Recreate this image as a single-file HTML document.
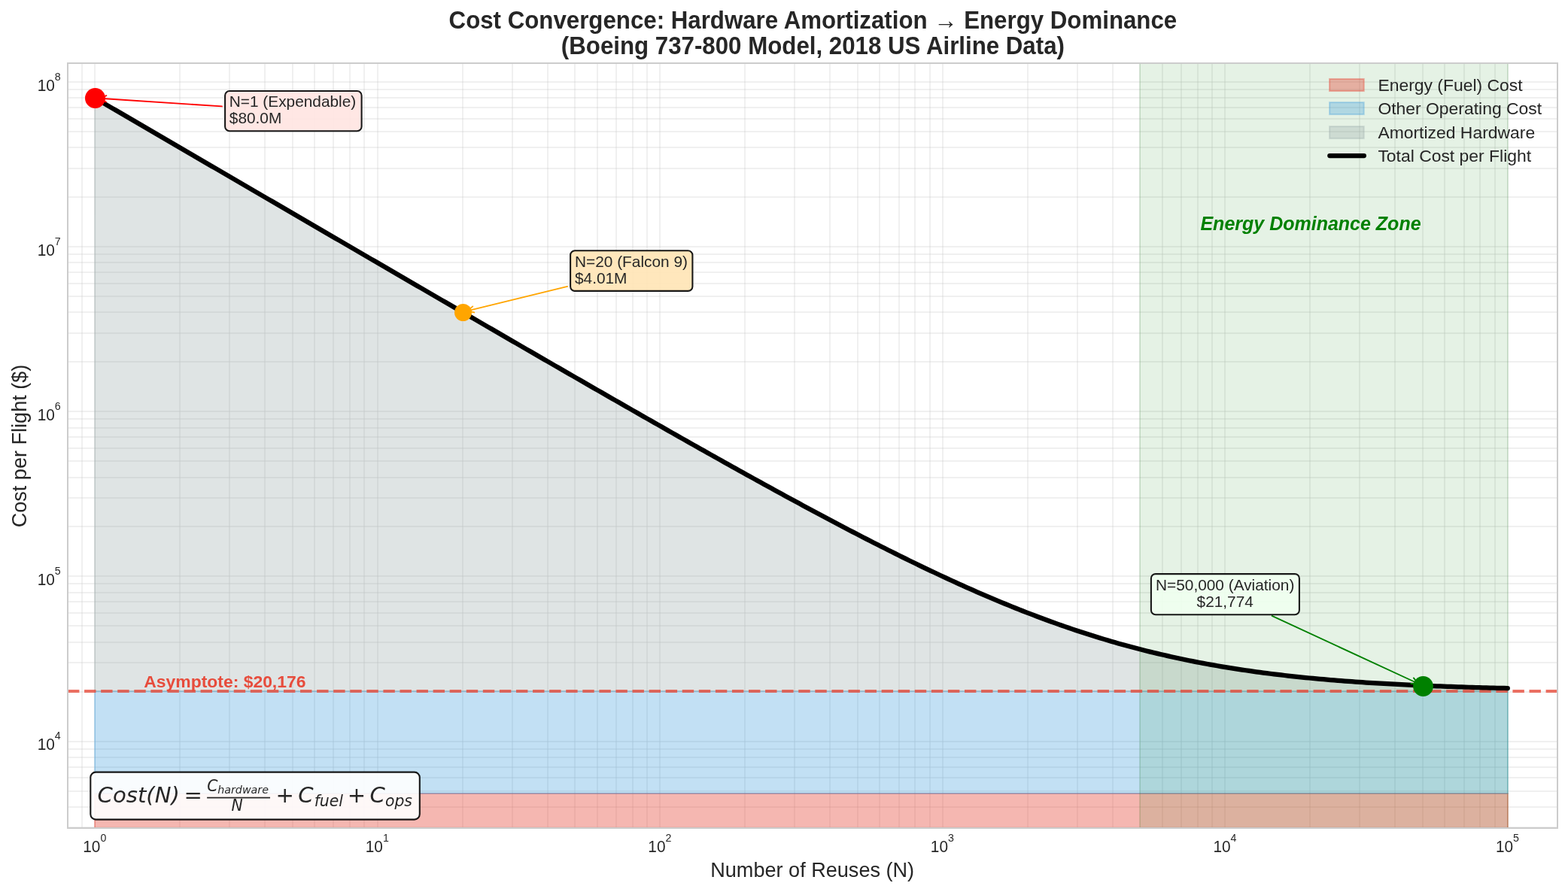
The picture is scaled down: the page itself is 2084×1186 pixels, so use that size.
<!DOCTYPE html>
<html lang="en">
<head>
<meta charset="utf-8">
<title>Cost Convergence: Hardware Amortization to Energy Dominance</title>
<style>
html,body{margin:0;padding:0;background:#ffffff;}
body{width:2084px;height:1186px;overflow:hidden;font-family:"Liberation Sans",sans-serif;}
svg{display:block;will-change:transform;}
svg text{font-family:"Liberation Sans",sans-serif;fill:#262626;}
.tk{font-size:20.83px;}
.sup{font-size:14.2px;}
.ann{font-size:20.83px;}
.leg{font-size:22.92px;}
.fm{font-family:"DejaVu Sans","Liberation Sans",sans-serif;font-style:italic;fill:#262626;}
.fmu{font-family:"DejaVu Sans","Liberation Sans",sans-serif;font-style:normal;fill:#262626;}
</style>
</head>
<body>
<svg width="2084" height="1186" viewBox="0 0 2084 1186">
<rect x="0" y="0" width="2084" height="1186" fill="#ffffff"/>

<defs><clipPath id="ax"><rect x="90.00" y="84.00" width="1980.00" height="1017.00"/></clipPath></defs>
<g clip-path="url(#ax)">
<g stroke="#cccccc" stroke-opacity="0.30" stroke-width="2" fill="none">
<path d="M90 84.0V1101.0"/>
<path d="M109 84.0V1101.0"/>
<path d="M126 84.0V1101.0"/>
<path d="M239 84.0V1101.0"/>
<path d="M305 84.0V1101.0"/>
<path d="M352 84.0V1101.0"/>
<path d="M389 84.0V1101.0"/>
<path d="M418 84.0V1101.0"/>
<path d="M443 84.0V1101.0"/>
<path d="M465 84.0V1101.0"/>
<path d="M484 84.0V1101.0"/>
<path d="M502 84.0V1101.0"/>
<path d="M615 84.0V1101.0"/>
<path d="M681 84.0V1101.0"/>
<path d="M728 84.0V1101.0"/>
<path d="M764 84.0V1101.0"/>
<path d="M794 84.0V1101.0"/>
<path d="M819 84.0V1101.0"/>
<path d="M841 84.0V1101.0"/>
<path d="M860 84.0V1101.0"/>
<path d="M877 84.0V1101.0"/>
<path d="M990 84.0V1101.0"/>
<path d="M1056 84.0V1101.0"/>
<path d="M1103 84.0V1101.0"/>
<path d="M1140 84.0V1101.0"/>
<path d="M1169 84.0V1101.0"/>
<path d="M1195 84.0V1101.0"/>
<path d="M1216 84.0V1101.0"/>
<path d="M1236 84.0V1101.0"/>
<path d="M1253 84.0V1101.0"/>
<path d="M1366 84.0V1101.0"/>
<path d="M1432 84.0V1101.0"/>
<path d="M1479 84.0V1101.0"/>
<path d="M1515 84.0V1101.0"/>
<path d="M1545 84.0V1101.0"/>
<path d="M1570 84.0V1101.0"/>
<path d="M1592 84.0V1101.0"/>
<path d="M1611 84.0V1101.0"/>
<path d="M1628 84.0V1101.0"/>
<path d="M1741 84.0V1101.0"/>
<path d="M1807 84.0V1101.0"/>
<path d="M1854 84.0V1101.0"/>
<path d="M1891 84.0V1101.0"/>
<path d="M1920 84.0V1101.0"/>
<path d="M1946 84.0V1101.0"/>
<path d="M1967 84.0V1101.0"/>
<path d="M1987 84.0V1101.0"/>
<path d="M2004 84.0V1101.0"/>
<path d="M90.0 1100H2070.0"/>
<path d="M90.0 1073H2070.0"/>
<path d="M90.0 1052H2070.0"/>
<path d="M90.0 1034H2070.0"/>
<path d="M90.0 1020H2070.0"/>
<path d="M90.0 1007H2070.0"/>
<path d="M90.0 996H2070.0"/>
<path d="M90.0 986H2070.0"/>
<path d="M90.0 920H2070.0"/>
<path d="M90.0 881H2070.0"/>
<path d="M90.0 854H2070.0"/>
<path d="M90.0 832H2070.0"/>
<path d="M90.0 815H2070.0"/>
<path d="M90.0 800H2070.0"/>
<path d="M90.0 788H2070.0"/>
<path d="M90.0 776H2070.0"/>
<path d="M90.0 766H2070.0"/>
<path d="M90.0 700H2070.0"/>
<path d="M90.0 662H2070.0"/>
<path d="M90.0 635H2070.0"/>
<path d="M90.0 613H2070.0"/>
<path d="M90.0 596H2070.0"/>
<path d="M90.0 581H2070.0"/>
<path d="M90.0 569H2070.0"/>
<path d="M90.0 557H2070.0"/>
<path d="M90.0 547H2070.0"/>
<path d="M90.0 481H2070.0"/>
<path d="M90.0 443H2070.0"/>
<path d="M90.0 415H2070.0"/>
<path d="M90.0 394H2070.0"/>
<path d="M90.0 377H2070.0"/>
<path d="M90.0 362H2070.0"/>
<path d="M90.0 349H2070.0"/>
<path d="M90.0 338H2070.0"/>
<path d="M90.0 328H2070.0"/>
<path d="M90.0 262H2070.0"/>
<path d="M90.0 224H2070.0"/>
<path d="M90.0 196H2070.0"/>
<path d="M90.0 175H2070.0"/>
<path d="M90.0 158H2070.0"/>
<path d="M90.0 143H2070.0"/>
<path d="M90.0 130H2070.0"/>
<path d="M90.0 119H2070.0"/>
<path d="M90.0 109H2070.0"/>
</g>
<rect x="126.00" y="1055.00" width="1878.00" height="66.00" fill="#e74c3c" fill-opacity="0.4" stroke="#e74c3c" stroke-opacity="0.4" stroke-width="2.00"/>
<rect x="126.00" y="919.00" width="1878.00" height="136.00" fill="#3498db" fill-opacity="0.3" stroke="#3498db" stroke-opacity="0.3" stroke-width="2.00"/>
<path d="M126.00 919.00L126.08 130.35L130.78 133.10L135.49 135.84L140.19 138.59L144.90 141.33L149.61 144.08L154.31 146.82L159.02 149.57L163.72 152.31L168.43 155.06L173.14 157.80L177.84 160.55L182.55 163.29L187.25 166.04L191.96 168.78L196.67 171.53L201.37 174.27L206.08 177.02L210.78 179.76L215.49 182.51L220.20 185.25L224.90 188.00L229.61 190.74L234.32 193.49L239.02 196.23L243.73 198.98L248.43 201.72L253.14 204.46L257.85 207.21L262.55 209.95L267.26 212.70L271.96 215.44L276.67 218.19L281.38 220.93L286.08 223.67L290.79 226.42L295.49 229.16L300.20 231.91L304.91 234.65L309.61 237.39L314.32 240.14L319.03 242.88L323.73 245.63L328.44 248.37L333.14 251.11L337.85 253.86L342.56 256.60L347.26 259.34L351.97 262.09L356.67 264.83L361.38 267.57L366.09 270.32L370.79 273.06L375.50 275.80L380.20 278.54L384.91 281.29L389.62 284.03L394.32 286.77L399.03 289.51L403.74 292.26L408.44 295.00L413.15 297.74L417.85 300.48L422.56 303.22L427.27 305.97L431.97 308.71L436.68 311.45L441.38 314.19L446.09 316.93L450.80 319.67L455.50 322.41L460.21 325.15L464.91 327.89L469.62 330.63L474.33 333.38L479.03 336.12L483.74 338.86L488.44 341.59L493.15 344.33L497.86 347.07L502.56 349.81L507.27 352.55L511.98 355.29L516.68 358.03L521.39 360.77L526.09 363.51L530.80 366.24L535.51 368.98L540.21 371.72L544.92 374.46L549.62 377.19L554.33 379.93L559.04 382.66L563.74 385.40L568.45 388.14L573.15 390.87L577.86 393.61L582.57 396.34L587.27 399.08L591.98 401.81L596.69 404.54L601.39 407.28L606.10 410.01L610.80 412.74L615.51 415.48L620.22 418.21L624.92 420.94L629.63 423.67L634.33 426.40L639.04 429.13L643.75 431.86L648.45 434.59L653.16 437.32L657.86 440.05L662.57 442.78L667.28 445.50L671.98 448.23L676.69 450.96L681.40 453.68L686.10 456.41L690.81 459.13L695.51 461.85L700.22 464.58L704.93 467.30L709.63 470.02L714.34 472.74L719.04 475.46L723.75 478.18L728.46 480.90L733.16 483.62L737.87 486.34L742.57 489.05L747.28 491.77L751.99 494.48L756.69 497.20L761.40 499.91L766.10 502.62L770.81 505.33L775.52 508.04L780.22 510.75L784.93 513.46L789.64 516.17L794.34 518.87L799.05 521.58L803.75 524.28L808.46 526.98L813.17 529.68L817.87 532.38L822.58 535.08L827.28 537.77L831.99 540.47L836.70 543.16L841.40 545.86L846.11 548.55L850.81 551.24L855.52 553.92L860.23 556.61L864.93 559.29L869.64 561.97L874.35 564.66L879.05 567.33L883.76 570.01L888.46 572.69L893.17 575.36L897.88 578.03L902.58 580.70L907.29 583.36L911.99 586.03L916.70 588.69L921.41 591.35L926.11 594.00L930.82 596.66L935.52 599.31L940.23 601.96L944.94 604.61L949.64 607.25L954.35 609.89L959.06 612.53L963.76 615.16L968.47 617.79L973.17 620.42L977.88 623.05L982.59 625.67L987.29 628.29L992.00 630.90L996.70 633.51L1001.41 636.12L1006.12 638.72L1010.82 641.32L1015.53 643.92L1020.23 646.51L1024.94 649.09L1029.65 651.68L1034.35 654.25L1039.06 656.83L1043.77 659.40L1048.47 661.96L1053.18 664.52L1057.88 667.07L1062.59 669.62L1067.30 672.16L1072.00 674.70L1076.71 677.23L1081.41 679.76L1086.12 682.28L1090.83 684.79L1095.53 687.30L1100.24 689.80L1104.94 692.30L1109.65 694.79L1114.36 697.27L1119.06 699.74L1123.77 702.21L1128.47 704.67L1133.18 707.12L1137.89 709.57L1142.59 712.01L1147.30 714.43L1152.01 716.86L1156.71 719.27L1161.42 721.67L1166.12 724.07L1170.83 726.46L1175.54 728.83L1180.24 731.20L1184.95 733.56L1189.65 735.91L1194.36 738.25L1199.07 740.58L1203.77 742.90L1208.48 745.20L1213.18 747.50L1217.89 749.79L1222.60 752.06L1227.30 754.33L1232.01 756.58L1236.72 758.82L1241.42 761.05L1246.13 763.27L1250.83 765.47L1255.54 767.66L1260.25 769.84L1264.95 772.00L1269.66 774.16L1274.36 776.29L1279.07 778.42L1283.78 780.53L1288.48 782.63L1293.19 784.71L1297.89 786.78L1302.60 788.83L1307.31 790.87L1312.01 792.89L1316.72 794.90L1321.43 796.89L1326.13 798.86L1330.84 800.82L1335.54 802.76L1340.25 804.69L1344.96 806.60L1349.66 808.49L1354.37 810.37L1359.07 812.23L1363.78 814.07L1368.49 815.89L1373.19 817.70L1377.90 819.48L1382.60 821.25L1387.31 823.01L1392.02 824.74L1396.72 826.45L1401.43 828.15L1406.13 829.83L1410.84 831.49L1415.55 833.12L1420.25 834.74L1424.96 836.35L1429.67 837.93L1434.37 839.49L1439.08 841.03L1443.78 842.56L1448.49 844.06L1453.20 845.54L1457.90 847.01L1462.61 848.45L1467.31 849.88L1472.02 851.28L1476.73 852.67L1481.43 854.03L1486.14 855.38L1490.84 856.70L1495.55 858.01L1500.26 859.30L1504.96 860.56L1509.67 861.81L1514.38 863.04L1519.08 864.24L1523.79 865.43L1528.49 866.60L1533.20 867.75L1537.91 868.88L1542.61 869.99L1547.32 871.08L1552.02 872.16L1556.73 873.21L1561.44 874.25L1566.14 875.26L1570.85 876.26L1575.55 877.24L1580.26 878.21L1584.97 879.15L1589.67 880.08L1594.38 880.99L1599.09 881.88L1603.79 882.75L1608.50 883.61L1613.20 884.45L1617.91 885.27L1622.62 886.08L1627.32 886.87L1632.03 887.64L1636.73 888.40L1641.44 889.15L1646.15 889.87L1650.85 890.58L1655.56 891.28L1660.26 891.96L1664.97 892.63L1669.68 893.28L1674.38 893.92L1679.09 894.55L1683.80 895.16L1688.50 895.75L1693.21 896.34L1697.91 896.91L1702.62 897.47L1707.33 898.01L1712.03 898.54L1716.74 899.06L1721.44 899.57L1726.15 900.07L1730.86 900.55L1735.56 901.03L1740.27 901.49L1744.97 901.94L1749.68 902.38L1754.39 902.81L1759.09 903.23L1763.80 903.64L1768.50 904.04L1773.21 904.43L1777.92 904.81L1782.62 905.18L1787.33 905.54L1792.04 905.89L1796.74 906.23L1801.45 906.57L1806.15 906.90L1810.86 907.21L1815.57 907.52L1820.27 907.83L1824.98 908.12L1829.68 908.41L1834.39 908.69L1839.10 908.96L1843.80 909.23L1848.51 909.49L1853.21 909.74L1857.92 909.99L1862.63 910.23L1867.33 910.46L1872.04 910.69L1876.75 910.91L1881.45 911.12L1886.16 911.33L1890.86 911.54L1895.57 911.73L1900.28 911.93L1904.98 912.12L1909.69 912.30L1914.39 912.48L1919.10 912.65L1923.81 912.82L1928.51 912.99L1933.22 913.15L1937.92 913.30L1942.63 913.45L1947.34 913.60L1952.04 913.75L1956.75 913.89L1961.46 914.02L1966.16 914.15L1970.87 914.28L1975.57 914.41L1980.28 914.53L1984.99 914.65L1989.69 914.76L1994.40 914.88L1999.10 914.99L2003.81 915.09L2004.00 919.00Z" fill="#95a5a6" fill-opacity="0.3" stroke="#95a5a6" stroke-opacity="0.3" stroke-width="2.00" stroke-linejoin="round"/>
<rect x="1515.00" y="64.00" width="489.00" height="1057.00" fill="#008000" fill-opacity="0.1" stroke="#008000" stroke-opacity="0.1" stroke-width="2.00"/>
<line x1="90.00" y1="919.00" x2="2070.00" y2="919.00" stroke="#e74c3c" stroke-opacity="0.8" stroke-width="4.17" stroke-dasharray="15.41 6.664"/>
<path d="M126.08 130.35L130.78 133.10L135.49 135.84L140.19 138.59L144.90 141.33L149.61 144.08L154.31 146.82L159.02 149.57L163.72 152.31L168.43 155.06L173.14 157.80L177.84 160.55L182.55 163.29L187.25 166.04L191.96 168.78L196.67 171.53L201.37 174.27L206.08 177.02L210.78 179.76L215.49 182.51L220.20 185.25L224.90 188.00L229.61 190.74L234.32 193.49L239.02 196.23L243.73 198.98L248.43 201.72L253.14 204.46L257.85 207.21L262.55 209.95L267.26 212.70L271.96 215.44L276.67 218.19L281.38 220.93L286.08 223.67L290.79 226.42L295.49 229.16L300.20 231.91L304.91 234.65L309.61 237.39L314.32 240.14L319.03 242.88L323.73 245.63L328.44 248.37L333.14 251.11L337.85 253.86L342.56 256.60L347.26 259.34L351.97 262.09L356.67 264.83L361.38 267.57L366.09 270.32L370.79 273.06L375.50 275.80L380.20 278.54L384.91 281.29L389.62 284.03L394.32 286.77L399.03 289.51L403.74 292.26L408.44 295.00L413.15 297.74L417.85 300.48L422.56 303.22L427.27 305.97L431.97 308.71L436.68 311.45L441.38 314.19L446.09 316.93L450.80 319.67L455.50 322.41L460.21 325.15L464.91 327.89L469.62 330.63L474.33 333.38L479.03 336.12L483.74 338.86L488.44 341.59L493.15 344.33L497.86 347.07L502.56 349.81L507.27 352.55L511.98 355.29L516.68 358.03L521.39 360.77L526.09 363.51L530.80 366.24L535.51 368.98L540.21 371.72L544.92 374.46L549.62 377.19L554.33 379.93L559.04 382.66L563.74 385.40L568.45 388.14L573.15 390.87L577.86 393.61L582.57 396.34L587.27 399.08L591.98 401.81L596.69 404.54L601.39 407.28L606.10 410.01L610.80 412.74L615.51 415.48L620.22 418.21L624.92 420.94L629.63 423.67L634.33 426.40L639.04 429.13L643.75 431.86L648.45 434.59L653.16 437.32L657.86 440.05L662.57 442.78L667.28 445.50L671.98 448.23L676.69 450.96L681.40 453.68L686.10 456.41L690.81 459.13L695.51 461.85L700.22 464.58L704.93 467.30L709.63 470.02L714.34 472.74L719.04 475.46L723.75 478.18L728.46 480.90L733.16 483.62L737.87 486.34L742.57 489.05L747.28 491.77L751.99 494.48L756.69 497.20L761.40 499.91L766.10 502.62L770.81 505.33L775.52 508.04L780.22 510.75L784.93 513.46L789.64 516.17L794.34 518.87L799.05 521.58L803.75 524.28L808.46 526.98L813.17 529.68L817.87 532.38L822.58 535.08L827.28 537.77L831.99 540.47L836.70 543.16L841.40 545.86L846.11 548.55L850.81 551.24L855.52 553.92L860.23 556.61L864.93 559.29L869.64 561.97L874.35 564.66L879.05 567.33L883.76 570.01L888.46 572.69L893.17 575.36L897.88 578.03L902.58 580.70L907.29 583.36L911.99 586.03L916.70 588.69L921.41 591.35L926.11 594.00L930.82 596.66L935.52 599.31L940.23 601.96L944.94 604.61L949.64 607.25L954.35 609.89L959.06 612.53L963.76 615.16L968.47 617.79L973.17 620.42L977.88 623.05L982.59 625.67L987.29 628.29L992.00 630.90L996.70 633.51L1001.41 636.12L1006.12 638.72L1010.82 641.32L1015.53 643.92L1020.23 646.51L1024.94 649.09L1029.65 651.68L1034.35 654.25L1039.06 656.83L1043.77 659.40L1048.47 661.96L1053.18 664.52L1057.88 667.07L1062.59 669.62L1067.30 672.16L1072.00 674.70L1076.71 677.23L1081.41 679.76L1086.12 682.28L1090.83 684.79L1095.53 687.30L1100.24 689.80L1104.94 692.30L1109.65 694.79L1114.36 697.27L1119.06 699.74L1123.77 702.21L1128.47 704.67L1133.18 707.12L1137.89 709.57L1142.59 712.01L1147.30 714.43L1152.01 716.86L1156.71 719.27L1161.42 721.67L1166.12 724.07L1170.83 726.46L1175.54 728.83L1180.24 731.20L1184.95 733.56L1189.65 735.91L1194.36 738.25L1199.07 740.58L1203.77 742.90L1208.48 745.20L1213.18 747.50L1217.89 749.79L1222.60 752.06L1227.30 754.33L1232.01 756.58L1236.72 758.82L1241.42 761.05L1246.13 763.27L1250.83 765.47L1255.54 767.66L1260.25 769.84L1264.95 772.00L1269.66 774.16L1274.36 776.29L1279.07 778.42L1283.78 780.53L1288.48 782.63L1293.19 784.71L1297.89 786.78L1302.60 788.83L1307.31 790.87L1312.01 792.89L1316.72 794.90L1321.43 796.89L1326.13 798.86L1330.84 800.82L1335.54 802.76L1340.25 804.69L1344.96 806.60L1349.66 808.49L1354.37 810.37L1359.07 812.23L1363.78 814.07L1368.49 815.89L1373.19 817.70L1377.90 819.48L1382.60 821.25L1387.31 823.01L1392.02 824.74L1396.72 826.45L1401.43 828.15L1406.13 829.83L1410.84 831.49L1415.55 833.12L1420.25 834.74L1424.96 836.35L1429.67 837.93L1434.37 839.49L1439.08 841.03L1443.78 842.56L1448.49 844.06L1453.20 845.54L1457.90 847.01L1462.61 848.45L1467.31 849.88L1472.02 851.28L1476.73 852.67L1481.43 854.03L1486.14 855.38L1490.84 856.70L1495.55 858.01L1500.26 859.30L1504.96 860.56L1509.67 861.81L1514.38 863.04L1519.08 864.24L1523.79 865.43L1528.49 866.60L1533.20 867.75L1537.91 868.88L1542.61 869.99L1547.32 871.08L1552.02 872.16L1556.73 873.21L1561.44 874.25L1566.14 875.26L1570.85 876.26L1575.55 877.24L1580.26 878.21L1584.97 879.15L1589.67 880.08L1594.38 880.99L1599.09 881.88L1603.79 882.75L1608.50 883.61L1613.20 884.45L1617.91 885.27L1622.62 886.08L1627.32 886.87L1632.03 887.64L1636.73 888.40L1641.44 889.15L1646.15 889.87L1650.85 890.58L1655.56 891.28L1660.26 891.96L1664.97 892.63L1669.68 893.28L1674.38 893.92L1679.09 894.55L1683.80 895.16L1688.50 895.75L1693.21 896.34L1697.91 896.91L1702.62 897.47L1707.33 898.01L1712.03 898.54L1716.74 899.06L1721.44 899.57L1726.15 900.07L1730.86 900.55L1735.56 901.03L1740.27 901.49L1744.97 901.94L1749.68 902.38L1754.39 902.81L1759.09 903.23L1763.80 903.64L1768.50 904.04L1773.21 904.43L1777.92 904.81L1782.62 905.18L1787.33 905.54L1792.04 905.89L1796.74 906.23L1801.45 906.57L1806.15 906.90L1810.86 907.21L1815.57 907.52L1820.27 907.83L1824.98 908.12L1829.68 908.41L1834.39 908.69L1839.10 908.96L1843.80 909.23L1848.51 909.49L1853.21 909.74L1857.92 909.99L1862.63 910.23L1867.33 910.46L1872.04 910.69L1876.75 910.91L1881.45 911.12L1886.16 911.33L1890.86 911.54L1895.57 911.73L1900.28 911.93L1904.98 912.12L1909.69 912.30L1914.39 912.48L1919.10 912.65L1923.81 912.82L1928.51 912.99L1933.22 913.15L1937.92 913.30L1942.63 913.45L1947.34 913.60L1952.04 913.75L1956.75 913.89L1961.46 914.02L1966.16 914.15L1970.87 914.28L1975.57 914.41L1980.28 914.53L1984.99 914.65L1989.69 914.76L1994.40 914.88L1999.10 914.99L2003.81 915.09" fill="none" stroke="#000000" stroke-width="6.25" stroke-linecap="round" stroke-linejoin="round"/>
</g>
<rect x="90" y="84" width="1980" height="1017" fill="none" stroke="#cccccc" stroke-width="2"/>
<path d="M294.94 141.39L132.76 130.79M141.35 127.17L132.76 130.79L140.80 135.49" fill="none" stroke="#ff0000" stroke-width="1.85" stroke-linecap="round" stroke-linejoin="round"/>
<circle cx="126.50" cy="130.50" r="13.50" fill="#ff0000"/>
<rect x="299.10" y="121.00" width="181.50" height="53.20" rx="6" ry="6" fill="#ffe4e1" fill-opacity="0.9" stroke="#000000" stroke-opacity="0.9" stroke-width="2.08"/>
<text class="ann" x="304.80" y="142.00" text-anchor="start">N=1 (Expendable)</text>
<text class="ann" x="304.80" y="164.00" text-anchor="start">$80.0M</text>
<path d="M754.05 380.92L621.18 413.40M628.29 407.37L621.18 413.40L630.26 415.47" fill="none" stroke="#ffa500" stroke-width="1.85" stroke-linecap="round" stroke-linejoin="round"/>
<circle cx="615.50" cy="415.50" r="11.50" fill="#ffa500"/>
<rect x="758.10" y="333.30" width="162.30" height="53.60" rx="6" ry="6" fill="#ffe4b5" fill-opacity="0.9" stroke="#000000" stroke-opacity="0.9" stroke-width="2.08"/>
<text class="ann" x="764.00" y="355.00" text-anchor="start">N=20 (Falcon 9)</text>
<text class="ann" x="764.00" y="377.00" text-anchor="start">$4.01M</text>
<path d="M1690.65 818.95L1884.68 908.72M1875.37 909.00L1884.68 908.72L1878.87 901.44" fill="none" stroke="#008000" stroke-width="1.85" stroke-linecap="round" stroke-linejoin="round"/>
<circle cx="1891.50" cy="912.50" r="13.40" fill="#008000"/>
<rect x="1529.90" y="763.10" width="197.00" height="54.10" rx="6" ry="6" fill="#f0fff0" fill-opacity="0.9" stroke="#000000" stroke-opacity="0.9" stroke-width="2.08"/>
<text class="ann" x="1628.20" y="785.00" text-anchor="middle">N=50,000 (Aviation)</text>
<text class="ann" x="1628.20" y="807.00" text-anchor="middle">$21,774</text>
<text x="191.3" y="914" style="font-size:22.92px;font-weight:bold;fill:#e74c3c">Asymptote: $20,176</text>
<text x="1742" y="306" text-anchor="middle" style="font-size:25px;font-weight:bold;font-style:italic;fill:#008000">Energy Dominance Zone</text>
<rect x="120.3" y="1026.6" width="437.5" height="63.0" rx="7" ry="7" fill="#ffffff" fill-opacity="0.9" stroke="#000000" stroke-opacity="0.9" stroke-width="2.08"/>
<g transform="translate(129.58 1066.9) scale(0.2913)" fill="#262626" aria-label="Cost(N) = C_hardware / N + C_fuel + C_ops">
<text class="fm" x="0" y="0" style="font-size:100px">Cost(N)</text>
<text class="fmu" x="394.6" y="0" style="font-size:100px">=</text>
<text class="fm" x="500" y="-51.3" style="font-size:70px">C</text>
<text class="fm" x="548" y="-39.8" style="font-size:49px">hardware</text>
<path transform="translate(0.00 0.34)" d="M499.6 -18.9L499.6 -25.1L787.6 -25.1L787.6 -18.9Z"/>
<text class="fm" x="611" y="38.7" style="font-size:70px">N</text>
<text class="fmu" x="813.4" y="0" style="font-size:100px">+</text>
<text class="fm" x="915.3" y="0" style="font-size:100px">C</text>
<text class="fm" x="989" y="16.3" style="font-size:70px">fuel</text>
<text class="fmu" x="1140.2" y="0" style="font-size:100px">+</text>
<text class="fm" x="1242.1" y="0" style="font-size:100px">C</text>
<text class="fm" x="1312.6" y="16.3" style="font-size:70px">ops</text>
</g>
<rect x="1767.10" y="105.00" width="45.60" height="16.00" fill="#e74c3c" fill-opacity="0.40" stroke="#e74c3c" stroke-opacity="0.40" stroke-width="2.08"/>
<text class="leg" x="1831.4" y="121.00">Energy (Fuel) Cost</text>
<rect x="1767.10" y="136.10" width="45.60" height="16.00" fill="#3498db" fill-opacity="0.30" stroke="#3498db" stroke-opacity="0.30" stroke-width="2.08"/>
<text class="leg" x="1831.4" y="152.00">Other Operating Cost</text>
<rect x="1767.10" y="168.10" width="45.60" height="16.00" fill="#95a5a6" fill-opacity="0.30" stroke="#95a5a6" stroke-opacity="0.30" stroke-width="2.08"/>
<text class="leg" x="1831.4" y="184.00">Amortized Hardware</text>
<line x1="1767.3" y1="207" x2="1812.9" y2="207" stroke="#000" stroke-width="6.25" stroke-linecap="round"/>
<text class="leg" x="1831.4" y="215">Total Cost per Flight</text>
<text class="tk" transform="translate(133.38 1133.00) scale(1 1.060)" text-anchor="end">10</text><text class="sup" transform="translate(133.38 1119.00) scale(1 1.060)">0</text>
<text class="tk" transform="translate(508.92 1133.00) scale(1 1.060)" text-anchor="end">10</text><text class="sup" transform="translate(508.92 1119.00) scale(1 1.060)">1</text>
<text class="tk" transform="translate(884.47 1133.00) scale(1 1.060)" text-anchor="end">10</text><text class="sup" transform="translate(884.47 1119.00) scale(1 1.060)">2</text>
<text class="tk" transform="translate(1260.02 1133.00) scale(1 1.060)" text-anchor="end">10</text><text class="sup" transform="translate(1260.02 1119.00) scale(1 1.060)">3</text>
<text class="tk" transform="translate(1635.56 1133.00) scale(1 1.060)" text-anchor="end">10</text><text class="sup" transform="translate(1635.56 1119.00) scale(1 1.060)">4</text>
<text class="tk" transform="translate(2011.11 1133.00) scale(1 1.060)" text-anchor="end">10</text><text class="sup" transform="translate(2011.11 1119.00) scale(1 1.060)">5</text>
<text class="tk" transform="translate(72.85 997.00) scale(1 1.060)" text-anchor="end">10</text><text class="sup" transform="translate(72.80 983.00) scale(1 1.060)">4</text>
<text class="tk" transform="translate(72.85 778.00) scale(1 1.060)" text-anchor="end">10</text><text class="sup" transform="translate(72.80 764.00) scale(1 1.060)">5</text>
<text class="tk" transform="translate(72.85 559.00) scale(1 1.060)" text-anchor="end">10</text><text class="sup" transform="translate(72.80 545.00) scale(1 1.060)">6</text>
<text class="tk" transform="translate(72.85 340.00) scale(1 1.060)" text-anchor="end">10</text><text class="sup" transform="translate(72.80 326.00) scale(1 1.060)">7</text>
<text class="tk" transform="translate(72.85 121.00) scale(1 1.060)" text-anchor="end">10</text><text class="sup" transform="translate(72.80 107.00) scale(1 1.060)">8</text>
<text x="1079.7" y="1166" text-anchor="middle" style="font-size:27.08px">Number of Reuses (N)</text>
<text transform="translate(34.6 593) rotate(-90)" text-anchor="middle" style="font-size:27.08px">Cost per Flight ($)</text>
<text transform="translate(1080.4 38) scale(1 1.04)" text-anchor="middle" style="font-size:31.25px;font-weight:bold">Cost Convergence: Hardware Amortization → Energy Dominance</text>
<text transform="translate(1080.4 72) scale(1 1.04)" text-anchor="middle" style="font-size:31.25px;font-weight:bold">(Boeing 737-800 Model, 2018 US Airline Data)</text>
</svg>
</body>
</html>
